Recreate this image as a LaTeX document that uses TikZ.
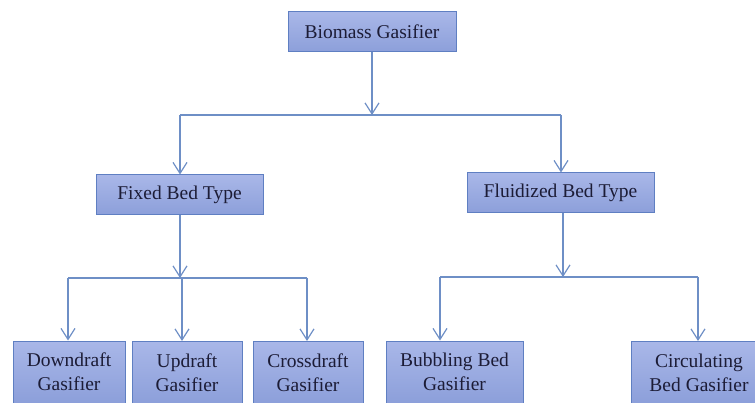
\documentclass[tikz,border=0pt]{standalone}
\usepackage{fontspec}
\setmainfont{Liberation Serif}
\usetikzlibrary{arrows.meta, positioning}
\definecolor{cline}{HTML}{6E8FC6}
\definecolor{cedge}{HTML}{5F7FC2}
\definecolor{ctop}{HTML}{A9B7E8}
\definecolor{cbot}{HTML}{8C9FDA}
\definecolor{ctext}{HTML}{1C1C36}
\tikzset{
  every picture/.style={line width=1.3pt},
  box/.style={draw=cedge, line width=1pt, top color=ctop, bottom color=cbot, align=center,
    inner sep=2pt, text=ctext, font=\fontsize{19.5}{24}\selectfont},
  link/.style={-{Straight Barb[length=11pt, width=14pt, line width=1.2pt]}, draw=cline},
  bar/.style={draw=cline},
}

\begin{document}
\begin{tikzpicture}[x=1pt, y=-1pt,
    top/.style={box, minimum width=#1, minimum height=40pt},
    leaf/.style={box, anchor=north, minimum width=#1, minimum height=62pt},
  ]
  \useasboundingbox (0,0) rectangle (755,403);
  \clip (0,0) rectangle (755,403);

  % ---- boxes
  \node[top=168pt] (root) at (372,32)    {Biomass Gasifier};
  \node[top=167pt] (fix)  at (179.5,195) {Fixed Bed Type};
  \node[top=187pt] (flu)  at (560.5,193) {Fluidized Bed Type};

  \node[leaf=112pt] (dd) at (69,340.5)    {Downdraft\\Gasifier};
  \node[leaf=110pt] (ud) at (187,341)     {Updraft\\Gasifier};
  \node[leaf=110pt] (cd) at (308,341)     {Crossdraft\\Gasifier};
  \node[leaf=137pt] (bb) at (454.5,340.5) {Bubbling Bed\\Gasifier};
  \node[leaf=136pt] (cb) at (699,341)     {Circulating\\Bed Gasifier};

  % ---- junctions
  \coordinate (j0) at (372,115);
  \coordinate (j0l) at (180,115);
  \coordinate (j0r) at (561,115);
  \coordinate (j1) at (180,278);
  \coordinate (j1a) at (68,278);
  \coordinate (j1b) at (182,278);
  \coordinate (j1c) at (307,278);
  \coordinate (j2) at (563,277);
  \coordinate (j2a) at (440,277);
  \coordinate (j2b) at (698,277);

  % ---- connectors
  \draw[link] (root) -- (j0);
  \draw[bar]  (j0l) -- (j0r);
  \draw[link] (j0l) -- (j0l |- fix.north);
  \draw[link] (j0r) -- (j0r |- flu.north);

  \draw[link] (fix.south -| j1) -- (j1);
  \draw[bar]  (j1a) -- (j1c);
  \draw[link] (j1a) -- (j1a |- dd.north);
  \draw[link] (j1b) -- (j1b |- ud.north);
  \draw[link] (j1c) -- (j1c |- cd.north);

  \draw[link] (flu.south -| j2) -- (j2);
  \draw[bar]  (j2a) -- (j2b);
  \draw[link] (j2a) -- (j2a |- bb.north);
  \draw[link] (j2b) -- (j2b |- cb.north);
\end{tikzpicture}
\end{document}
